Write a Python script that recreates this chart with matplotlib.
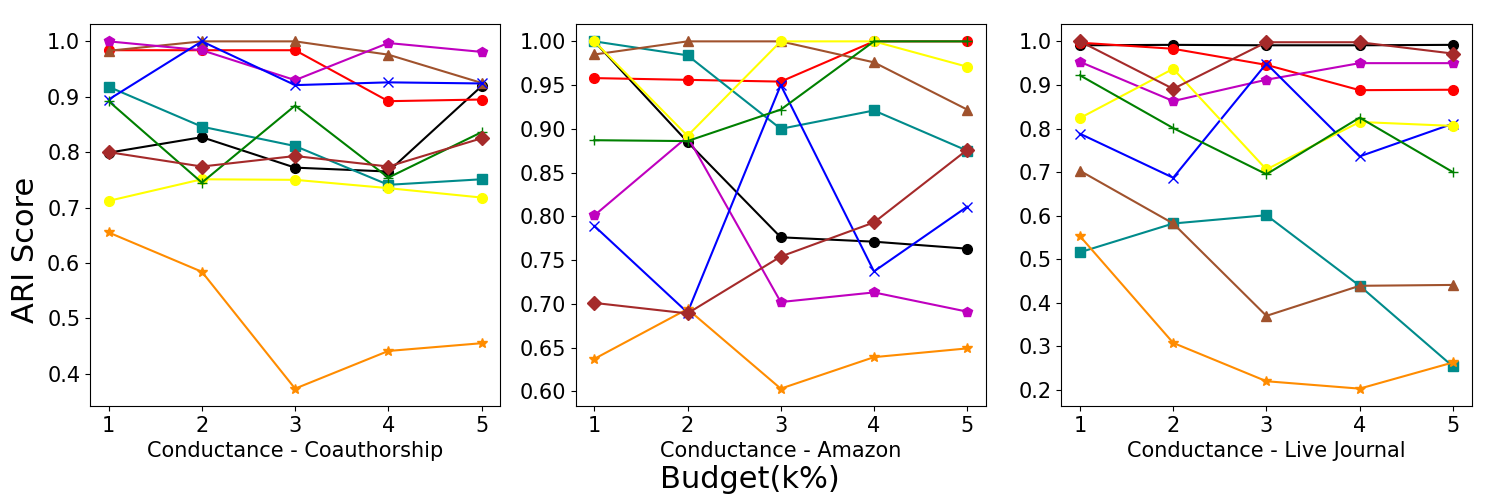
import matplotlib
matplotlib.use("Agg")
import matplotlib.pyplot as plt

budget = [1, 2, 3, 4, 5]
panel_titles = ["Conductance - Coauthorship", "Conductance - Amazon", "Conductance - Live Journal"]

# series styles: (color, marker)
series_names = ["black", "red", "teal", "sienna", "magenta", "blue", "yellow", "green", "orange", "brown"]
colors = {"black": "black", "red": "red", "teal": "#008b8b", "sienna": "sienna", "magenta": "m",
          "blue": "blue", "yellow": "yellow", "green": "green", "orange": "darkorange", "brown": "brown"}
markers = {"black": "o", "red": "o", "teal": "s", "sienna": "^", "magenta": "p",
           "blue": "x", "yellow": "o", "green": "+", "orange": "*", "brown": "D"}

# Coauthorship
coauth = {
    "black":   [0.799, 0.827, 0.772, 0.765, 0.919],
    "red":     [0.984, 0.984, 0.984, 0.892, 0.895],
    "teal":    [0.918, 0.846, 0.811, 0.741, 0.751],
    "sienna":  [0.983, 1.000, 1.000, 0.976, 0.925],
    "magenta": [1.000, 0.984, 0.930, 0.997, 0.981],
    "blue":    [0.895, 1.000, 0.921, 0.926, 0.924],
    "yellow":  [0.712, 0.751, 0.750, 0.735, 0.718],
    "green":   [0.892, 0.745, 0.884, 0.754, 0.836],
    "orange":  [0.655, 0.584, 0.373, 0.441, 0.455],
    "brown":   [0.800, 0.774, 0.793, 0.774, 0.825],
}
# Amazon
amazon = {
    "black":   [1.000, 0.885, 0.776, 0.771, 0.763],
    "red":     [0.958, 0.956, 0.954, 1.000, 1.000],
    "teal":    [1.000, 0.984, 0.900, 0.921, 0.875],
    "sienna":  [0.985, 1.000, 1.000, 0.976, 0.922],
    "magenta": [0.801, 0.891, 0.702, 0.713, 0.691],
    "blue":    [0.789, 0.690, 0.950, 0.737, 0.811],
    "yellow":  [1.000, 0.892, 1.000, 1.000, 0.971],
    "green":   [0.887, 0.886, 0.922, 1.000, 1.000],
    "orange":  [0.637, 0.694, 0.603, 0.639, 0.649],
    "brown":   [0.701, 0.689, 0.754, 0.793, 0.876],
}
# Live Journal
livejournal = {
    "black":   [0.991, 0.992, 0.991, 0.991, 0.992],
    "red":     [0.997, 0.983, 0.946, 0.888, 0.889],
    "teal":    [0.516, 0.582, 0.601, 0.439, 0.254],
    "sienna":  [0.703, 0.582, 0.370, 0.439, 0.441],
    "magenta": [0.953, 0.863, 0.912, 0.950, 0.950],
    "blue":    [0.788, 0.687, 0.949, 0.736, 0.811],
    "yellow":  [0.824, 0.937, 0.706, 0.815, 0.806],
    "green":   [0.922, 0.801, 0.695, 0.825, 0.700],
    "orange":  [0.553, 0.308, 0.220, 0.203, 0.263],
    "brown":   [1.000, 0.891, 0.998, 0.998, 0.972],
}
datasets = [coauth, amazon, livejournal]

fig, axes = plt.subplots(1, 3, figsize=(15, 5), dpi=100)
fig.subplots_adjust(left=0.06, right=0.981, top=0.952, bottom=0.188, wspace=0.184)

for ax, data, title in zip(axes, datasets, panel_titles):
    for name in series_names:
        m = markers[name]
        ms = 7
        mew = 1.0
        if m in ("x", "+"):
            ms = 7
        elif m == "*":
            ms = 7
        ax.plot(budget, data[name], color=colors[name], marker=m, markersize=ms,
                linewidth=1.5, markeredgewidth=mew)
    ax.set_xticks(budget)
    ax.tick_params(labelsize=15)
    ax.set_xlabel(title, fontsize=15)

fig.text(0.017, 0.5, "ARI Score", fontsize=22, rotation=90, va="center", ha="center")
fig.text(0.5, 0.04, "Budget(k%)", fontsize=22, va="center", ha="center")

fig.savefig("out.png", dpi=100)
